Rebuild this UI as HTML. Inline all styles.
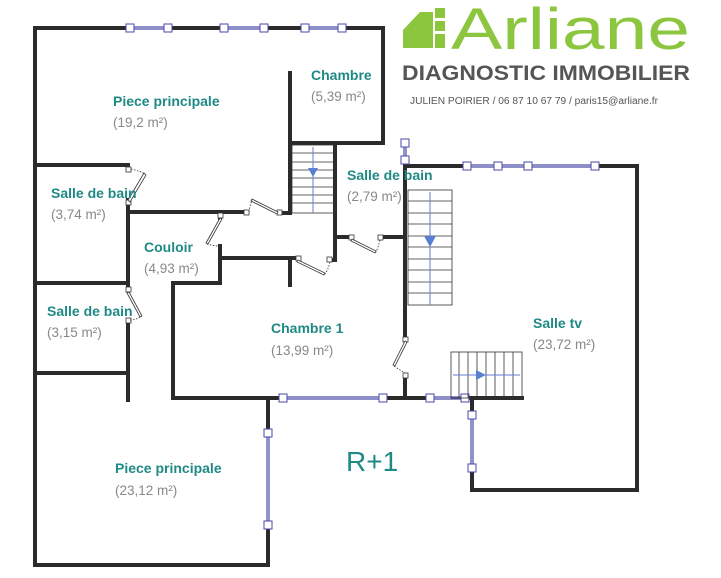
<!DOCTYPE html>
<html><head><meta charset="utf-8"><style>
html,body{margin:0;padding:0;background:#fff}
svg{display:block}
.w{stroke:#2b2b2b;stroke-width:4;fill:none;stroke-linecap:square}
.wi{stroke:#4a4aa8;stroke-width:1.2;fill:none}
.sq{fill:#fff;stroke:#4a4aa8;stroke-width:1}
.st{stroke:#333;stroke-width:0.8;fill:none}
.ax{stroke:#6a7ad8;stroke-width:1}
.dr{stroke:#333;stroke-width:0.8;fill:#fff}
.dt{stroke:#333;stroke-width:0.8;stroke-dasharray:1.5,1.5;fill:none}
.lb{font-family:"Liberation Sans",sans-serif;font-weight:bold;font-size:14px;fill:#1f8a85}
.ar{font-family:"Liberation Sans",sans-serif;font-size:13.5px;fill:#888}
</style></head><body>
<svg width="721" height="578" viewBox="0 0 721 578" xmlns="http://www.w3.org/2000/svg">
<!-- Logo -->
<g fill="#8cc63f">
<polygon points="403,48 403,30 420,12 433,12 433,48"/>
<rect x="435" y="8" width="10" height="10"/>
<rect x="435" y="21" width="10" height="10"/>
<rect x="435" y="34" width="10" height="14"/>
</g>
<text x="451" y="49" font-family="Liberation Sans,sans-serif" font-size="58" fill="#8cc63f" textLength="239" lengthAdjust="spacingAndGlyphs">Arliane</text>
<text x="402" y="80" font-family="Liberation Sans,sans-serif" font-weight="bold" font-size="21.5" fill="#555" textLength="288" lengthAdjust="spacingAndGlyphs">DIAGNOSTIC IMMOBILIER</text>
<text x="410" y="104" font-family="Liberation Sans,sans-serif" font-size="10" fill="#555" textLength="248" lengthAdjust="spacingAndGlyphs">JULIEN POIRIER / 06 87 10 67 79 / paris15@arliane.fr</text>

<!-- walls -->
<path class="w" d="M35,28 H130 M168,28 H224 M264,28 H305 M342,28 H383 V143 H292"/>
<path class="w" d="M35,28 V565 H268 V525 M268,433 V398 H283 M383,398 H430 M465,398 H472 V415 M472,468 V490 H637 V166 H595 M467,166 H405 V340 M405,375 V398"/>
<path class="w" d="M290,73 V213 H280 M247,212 H128 V200 M128,170 V165 H35"/>
<path class="w" d="M128,203 V283 H35 M128,283 V290 M128,320 V400"/>
<path class="w" d="M35,373 H128"/>
<path class="w" d="M220,212 V218 M220,246 V258 H297 M290,258 V285 M220,258 V283 H173 V398 H268"/>
<path class="w" d="M330,260 H335 V143 M337,237 H352 M380,237 H405"/>
<path class="w" d="M472,398 H522"/>
<!-- windows -->
<g class="wi">
<path d="M130,27 H168 M130,29 H168 M224,27 H264 M224,29 H264 M305,27 H342 M305,29 H342"/>
<path d="M467,165 H595 M467,167 H595"/>
<path d="M283,397 H383 M283,399 H383 M430,397 H465 M430,399 H465"/>
<path d="M267,433 V525 M269,433 V525 M471,415 V468 M473,415 V468"/>
<path d="M404,143 V160 M406,143 V160"/>
</g>
<g class="sq">
<rect x="126" y="24" width="8" height="8"/><rect x="164" y="24" width="8" height="8"/>
<rect x="220" y="24" width="8" height="8"/><rect x="260" y="24" width="8" height="8"/>
<rect x="301" y="24" width="8" height="8"/><rect x="338" y="24" width="8" height="8"/>
<rect x="463" y="162" width="8" height="8"/><rect x="494" y="162" width="8" height="8"/>
<rect x="524" y="162" width="8" height="8"/><rect x="591" y="162" width="8" height="8"/>
<rect x="279" y="394" width="8" height="8"/><rect x="379" y="394" width="8" height="8"/>
<rect x="426" y="394" width="8" height="8"/><rect x="461" y="394" width="8" height="8"/>
<rect x="264" y="429" width="8" height="8"/><rect x="264" y="521" width="8" height="8"/>
<rect x="468" y="411" width="8" height="8"/><rect x="468" y="464" width="8" height="8"/>
<rect x="401" y="139" width="8" height="8"/><rect x="401" y="156" width="8" height="8"/>
</g>
<!-- stairs -->
<g class="st">
<rect x="292" y="145" width="43" height="68"/>
<path d="M292,153 H335 M292,162 H335 M292,170 H335 M292,178 H335 M292,187 H335 M292,195 H335 M292,203 H335"/>
<rect x="408" y="190" width="44" height="115"/>
<path d="M408,201 H452 M408,213 H452 M408,224 H452 M408,236 H452 M408,247 H452 M408,259 H452 M408,270 H452 M408,282 H452 M408,293 H452"/>
<rect x="451" y="352" width="71" height="46"/>
<path d="M459,352 V398 M468,352 V398 M477,352 V398 M486,352 V398 M495,352 V398 M504,352 V398 M513,352 V398"/>
</g>
<path class="ax" d="M313,147 V213 M430,192 V305 M453,375 H520"/>
<g fill="#5b7fd0">
<polygon points="308,168 318,168 313,177"/>
<polygon points="424,236 436,236 430,247"/>
<polygon points="476,370 476,380 486,375"/>
</g>
<!-- doors -->
<g class="dr">
<rect x="126" y="167" width="5" height="5"/><rect x="126" y="200" width="5" height="5"/>
<polygon points="128,200 144,173 146,175 130,202"/>
<rect x="244" y="210" width="5" height="5"/><rect x="277" y="210" width="5" height="5"/>
<polygon points="252,199 278,212 277,214 251,201"/>
<rect x="218" y="213" width="5" height="5"/>
<polygon points="220,218 206,243 208,244 222,219"/>
<rect x="296" y="256" width="5" height="5"/><rect x="327" y="257" width="5" height="5"/>
<polygon points="298,260 325,273 324,275 297,262"/>
<rect x="349" y="235" width="5" height="5"/><rect x="378" y="235" width="5" height="5"/>
<polygon points="352,239 376,251 375,253 351,241"/>
<rect x="126" y="287" width="5" height="5"/><rect x="126" y="318" width="5" height="5"/>
<polygon points="129,292 142,316 140,317 127,293"/>
<rect x="403" y="337" width="5" height="5"/><rect x="403" y="373" width="5" height="5"/>
<polygon points="405,341 393,365 395,366 407,342"/>
</g>
<g class="dt">
<path d="M131,169 Q140,171 145,174 M249,212 Q250,205 252,200 M207,244 Q213,246 220,246 M330,262 Q328,270 325,274 M380,240 Q378,248 376,252 M130,320 Q137,320 141,316 M394,366 Q400,370 405,373"/>
</g>
<!-- labels -->
<text class="lb" x="113" y="106">Piece principale</text><text class="ar" x="113" y="127">(19,2 m²)</text>
<text class="lb" x="311" y="80">Chambre</text><text class="ar" x="311" y="101">(5,39 m²)</text>
<text class="lb" x="51" y="198">Salle de bain</text><text class="ar" x="51" y="219">(3,74 m²)</text>
<text class="lb" x="347" y="180">Salle de bain</text><text class="ar" x="347" y="201">(2,79 m²)</text>
<text class="lb" x="144" y="252">Couloir</text><text class="ar" x="144" y="273">(4,93 m²)</text>
<text class="lb" x="47" y="316">Salle de bain</text><text class="ar" x="47" y="337">(3,15 m²)</text>
<text class="lb" x="271" y="333">Chambre 1</text><text class="ar" x="271" y="355">(13,99 m²)</text>
<text class="lb" x="533" y="328">Salle tv</text><text class="ar" x="533" y="349">(23,72 m²)</text>
<text class="lb" x="115" y="473">Piece principale</text><text class="ar" x="115" y="495">(23,12 m²)</text>
<text x="346" y="471" font-family="Liberation Sans,sans-serif" font-size="28" fill="#1f8a85">R+1</text>
</svg>
</body></html>
